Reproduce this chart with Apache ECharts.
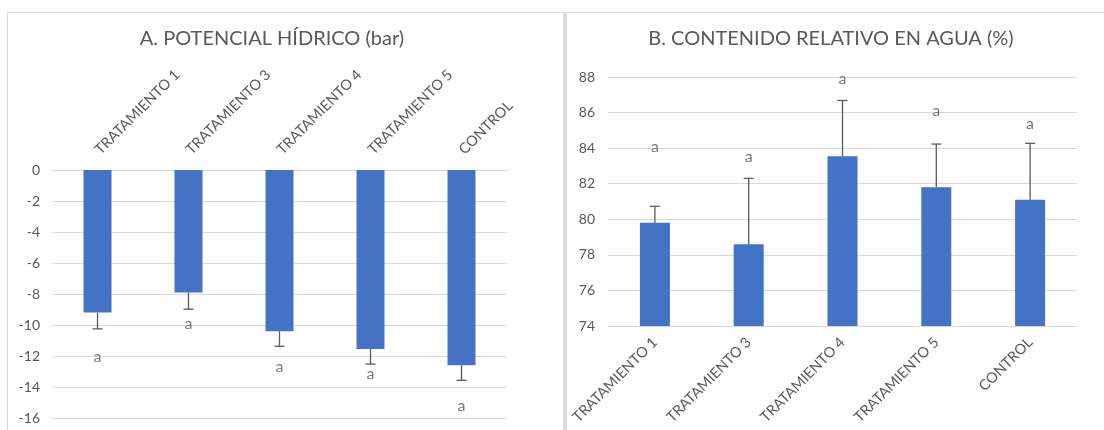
<!DOCTYPE html>
<html>
<head>
<meta charset="utf-8">
<title>Potencial hídrico y contenido relativo en agua</title>
<script src="https://cdn.jsdelivr.net/npm/echarts@6/dist/echarts.min.js"></script>
<style>
  html, body { margin: 0; padding: 0; background: #fff; }
  #chart { width: 1104px; height: 430px; }
</style>
</head>
<body>
<div id="chart"></div>
<script>
// Treatments shown on both panels
const categories = ['TRATAMIENTO 1', 'TRATAMIENTO 3', 'TRATAMIENTO 4', 'TRATAMIENTO 5', 'CONTROL'];

// Panel A: water potential (bar), with error bars drawn downwards
const potencialValues = [-9.2, -7.9, -10.4, -11.55, -12.6];
const potencialErrors = [1.05, 1.08, 0.97, 0.97, 0.97];
const potencialLetters = ['a', 'a', 'a', 'a', 'a'];
const potencialLetterY = [-11.9, -9.8, -12.6, -13.0, -15.1];
const potencialAxis = { min: -16, max: 0, interval: 2 };

// Panel B: relative water content (%), with error bars drawn upwards
const contenidoValues = [79.8, 78.6, 83.55, 81.8, 81.1];
const contenidoErrors = [0.93, 3.7, 3.13, 2.43, 3.17];
const contenidoLetters = ['a', 'a', 'a', 'a', 'a'];
const contenidoLetterY = [84.2, 83.6, 88.0, 86.2, 85.5];
const contenidoAxis = { min: 74, max: 88, interval: 2 };

const TEXT = '#595959';
const GRID_LINE = '#d9d9d9';
const BAR = '#4472c4';
const FONT = 'Lato';

// Error bar with a single cap at the far end; dir = -1 (down) or +1 (up)
function errorBar(dir) {
  return function (params, api) {
    const x = api.value(0);
    const v = api.value(1);
    const e = api.value(2);
    const p0 = api.coord([x, v]);
    const p1 = api.coord([x, v + dir * e]);
    const half = 5;
    const style = { stroke: '#5a5a5a', lineWidth: 1.3 };
    return {
      type: 'group',
      children: [
        { type: 'line', shape: { x1: p0[0], y1: p0[1], x2: p1[0], y2: p1[1] }, style: style },
        { type: 'line', shape: { x1: p1[0] - half, y1: p1[1], x2: p1[0] + half, y2: p1[1] }, style: style }
      ]
    };
  };
}

function letterSeries(axisIndex, letters, ys) {
  return {
    type: 'scatter',
    xAxisIndex: axisIndex,
    yAxisIndex: axisIndex,
    symbolSize: 0,
    silent: true,
    z: 5,
    data: ys.map((y, i) => [i, y]),
    label: {
      show: true,
      position: 'inside',
      offset: [0, 2],
      formatter: p => letters[p.dataIndex],
      color: TEXT,
      fontSize: 16,
      fontFamily: FONT
    }
  };
}

const chart = echarts.init(document.getElementById('chart'), null, { renderer: 'canvas' });

chart.setOption({
  animation: false,
  backgroundColor: '#ffffff',
  textStyle: { fontFamily: FONT, color: TEXT },
  title: [
    {
      text: 'A. POTENCIAL HÍDRICO (bar)',
      left: 272, top: 29, padding: 0, textAlign: 'center',
      textStyle: { fontFamily: FONT, fontSize: 20, fontWeight: 'normal', color: TEXT }
    },
    {
      text: 'B. CONTENIDO RELATIVO EN AGUA (%)',
      left: 831, top: 29, padding: 0, textAlign: 'center',
      textStyle: { fontFamily: FONT, fontSize: 20, fontWeight: 'normal', color: TEXT }
    }
  ],
  graphic: [
    // panel frames and the divider between the two panels
    { type: 'line', shape: { x1: 7, y1: 12.5, x2: 1104, y2: 12.5 }, style: { stroke: GRID_LINE, lineWidth: 1 }, silent: true },
    { type: 'line', shape: { x1: 7.5, y1: 12, x2: 7.5, y2: 430 }, style: { stroke: GRID_LINE, lineWidth: 1 }, silent: true },
    { type: 'rect', shape: { x: 563, y: 12, width: 4, height: 418 }, style: { fill: '#dcdcdc' }, silent: true }
  ],
  grid: [
    { left: 52, top: 170, width: 455, height: 248 },
    { left: 608, top: 77, width: 469, height: 249 }
  ],
  xAxis: [
    {
      type: 'category', gridIndex: 0, data: categories, position: 'top',
      axisLine: { show: true, lineStyle: { color: GRID_LINE } },
      axisTick: { show: false },
      axisLabel: { rotate: 45, margin: 18, fontSize: 14.5, color: TEXT, fontFamily: FONT, interval: 0 }
    },
    {
      type: 'category', gridIndex: 1, data: categories, position: 'bottom',
      axisLine: { show: true, lineStyle: { color: GRID_LINE } },
      axisTick: { show: false },
      axisLabel: { rotate: 45, margin: 14, fontSize: 14.5, color: TEXT, fontFamily: FONT, interval: 0 }
    }
  ],
  yAxis: [
    {
      type: 'value', gridIndex: 0,
      min: potencialAxis.min, max: potencialAxis.max, interval: potencialAxis.interval,
      axisLine: { show: false }, axisTick: { show: false },
      splitLine: { lineStyle: { color: GRID_LINE } },
      axisLabel: { margin: 12, fontSize: 14, color: TEXT, fontFamily: FONT }
    },
    {
      type: 'value', gridIndex: 1,
      min: contenidoAxis.min, max: contenidoAxis.max, interval: contenidoAxis.interval,
      axisLine: { show: false }, axisTick: { show: false },
      splitLine: { lineStyle: { color: GRID_LINE } },
      axisLabel: { margin: 13, fontSize: 14, color: TEXT, fontFamily: FONT }
    }
  ],
  series: [
    {
      type: 'bar', xAxisIndex: 0, yAxisIndex: 0, barWidth: 28,
      itemStyle: { color: BAR },
      data: potencialValues
    },
    {
      type: 'custom', xAxisIndex: 0, yAxisIndex: 0, z: 4, silent: true,
      renderItem: errorBar(-1),
      data: potencialValues.map((v, i) => [i, v, potencialErrors[i]])
    },
    letterSeries(0, potencialLetters, potencialLetterY),
    {
      type: 'bar', xAxisIndex: 1, yAxisIndex: 1, barWidth: 30,
      itemStyle: { color: BAR },
      data: contenidoValues
    },
    {
      type: 'custom', xAxisIndex: 1, yAxisIndex: 1, z: 4, silent: true,
      renderItem: errorBar(1),
      data: contenidoValues.map((v, i) => [i, v, contenidoErrors[i]])
    },
    letterSeries(1, contenidoLetters, contenidoLetterY)
  ]
});
</script>
</body>
</html>
